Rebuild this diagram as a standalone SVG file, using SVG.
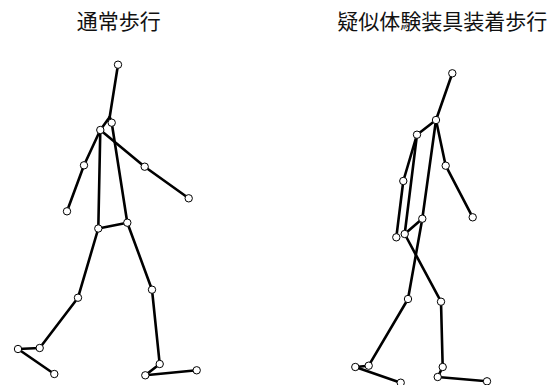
<svg xmlns="http://www.w3.org/2000/svg" width="558" height="385" viewBox="0 0 558 385">
  <style>
    .title { font-family: "Noto Sans CJK JP", "Noto Sans CJK SC", sans-serif; font-size: 21px; fill: #111; text-anchor: middle; }
    .bone { stroke: #000; stroke-width: 2.6; stroke-linecap: round; fill: none; }
    .joint { fill: #fff; stroke: #000; stroke-width: 1; }
  </style>
  <rect width="558" height="385" fill="#fff"/>

  <text class="title" x="118.7" y="29">通常歩行</text>
  <text class="title" x="442.3" y="29">疑似体験装具装着歩行</text>

  <!-- Normal gait skeleton -->
  <g id="normal-gait">
    <g id="normal-bones" class="bone">
      <line x1="118" y1="64.7" x2="109.7" y2="117"/>
      <line x1="109.7" y1="117" x2="100.3" y2="130"/>
      <line x1="109.7" y1="117" x2="111.7" y2="122.7"/>
      <line x1="100.3" y1="130" x2="84" y2="165.3"/>
      <line x1="84" y1="165.3" x2="67" y2="211.3"/>
      <line x1="100.3" y1="130" x2="144.7" y2="166.7"/>
      <line x1="144.7" y1="166.7" x2="188.7" y2="198.3"/>
      <line x1="100.3" y1="130" x2="98.3" y2="228.5"/>
      <line x1="111.7" y1="122.7" x2="127.3" y2="222.7"/>
      <line x1="98.3" y1="228.5" x2="127.3" y2="222.7"/>
      <line x1="98.3" y1="228.5" x2="78" y2="297.7"/>
      <line x1="78" y1="297.7" x2="39.7" y2="348"/>
      <line x1="39.7" y1="348" x2="18" y2="349"/>
      <line x1="18" y1="349" x2="54.3" y2="374"/>
      <line x1="127.3" y1="222.7" x2="152" y2="289.7"/>
      <line x1="152" y1="289.7" x2="159.7" y2="364"/>
      <line x1="159.7" y1="364" x2="145.3" y2="375.3"/>
      <line x1="145.3" y1="375.3" x2="196.7" y2="370.3"/>
    </g>
    <g id="normal-joints" class="joint">
      <circle cx="118" cy="64.7" r="3.7"/>
      <circle cx="111.7" cy="122.7" r="3.7"/>
      <circle cx="100.3" cy="130" r="3.7"/>
      <circle cx="84" cy="165.3" r="3.7"/>
      <circle cx="67" cy="211.3" r="3.7"/>
      <circle cx="144.7" cy="166.7" r="3.7"/>
      <circle cx="188.7" cy="198.3" r="3.7"/>
      <circle cx="98.3" cy="228.5" r="3.7"/>
      <circle cx="127.3" cy="222.7" r="3.7"/>
      <circle cx="78" cy="297.7" r="3.7"/>
      <circle cx="39.7" cy="348" r="3.7"/>
      <circle cx="18" cy="349" r="3.7"/>
      <circle cx="54.3" cy="374" r="3.7"/>
      <circle cx="152" cy="289.7" r="3.7"/>
      <circle cx="159.7" cy="364" r="3.7"/>
      <circle cx="145.3" cy="375.3" r="3.7"/>
      <circle cx="196.7" cy="370.3" r="3.7"/>
    </g>
  </g>

  <!-- Gait with simulation equipment -->
  <g id="simulated-gait">
    <g id="simulated-bones" class="bone">
      <line x1="452.3" y1="73.3" x2="436" y2="120"/>
      <line x1="436" y1="120" x2="417" y2="134.7"/>
      <line x1="417" y1="134.7" x2="403.3" y2="181"/>
      <line x1="403.3" y1="181" x2="396.3" y2="237.3"/>
      <line x1="417" y1="134.7" x2="404.7" y2="234"/>
      <line x1="436" y1="120" x2="445.7" y2="165.7"/>
      <line x1="445.7" y1="165.7" x2="472.7" y2="217.3"/>
      <line x1="436" y1="120" x2="422.3" y2="218.7"/>
      <line x1="404.7" y1="234" x2="422.3" y2="218.7"/>
      <line x1="422.3" y1="218.7" x2="408" y2="299"/>
      <line x1="408" y1="299" x2="368.7" y2="365.7"/>
      <line x1="368.7" y1="365.7" x2="355.3" y2="367"/>
      <line x1="355.3" y1="367" x2="400.7" y2="382.7"/>
      <line x1="404.7" y1="234" x2="441" y2="301.7"/>
      <line x1="441" y1="301.7" x2="442.7" y2="367"/>
      <line x1="442.7" y1="367" x2="437.7" y2="377"/>
      <line x1="437.7" y1="377" x2="487" y2="381.3"/>
    </g>
    <g id="simulated-joints" class="joint">
      <circle cx="452.3" cy="73.3" r="3.7"/>
      <circle cx="436" cy="120" r="3.7"/>
      <circle cx="417" cy="134.7" r="3.7"/>
      <circle cx="403.3" cy="181" r="3.7"/>
      <circle cx="396.3" cy="237.3" r="3.7"/>
      <circle cx="445.7" cy="165.7" r="3.7"/>
      <circle cx="472.7" cy="217.3" r="3.7"/>
      <circle cx="422.3" cy="218.7" r="3.7"/>
      <circle cx="404.7" cy="234" r="3.7"/>
      <circle cx="408" cy="299" r="3.7"/>
      <circle cx="368.7" cy="365.7" r="3.7"/>
      <circle cx="355.3" cy="367" r="3.7"/>
      <circle cx="400.7" cy="382.7" r="3.7"/>
      <circle cx="441" cy="301.7" r="3.7"/>
      <circle cx="442.7" cy="367" r="3.7"/>
      <circle cx="437.7" cy="377" r="3.7"/>
      <circle cx="487" cy="381.3" r="3.7"/>
    </g>
  </g>
</svg>
